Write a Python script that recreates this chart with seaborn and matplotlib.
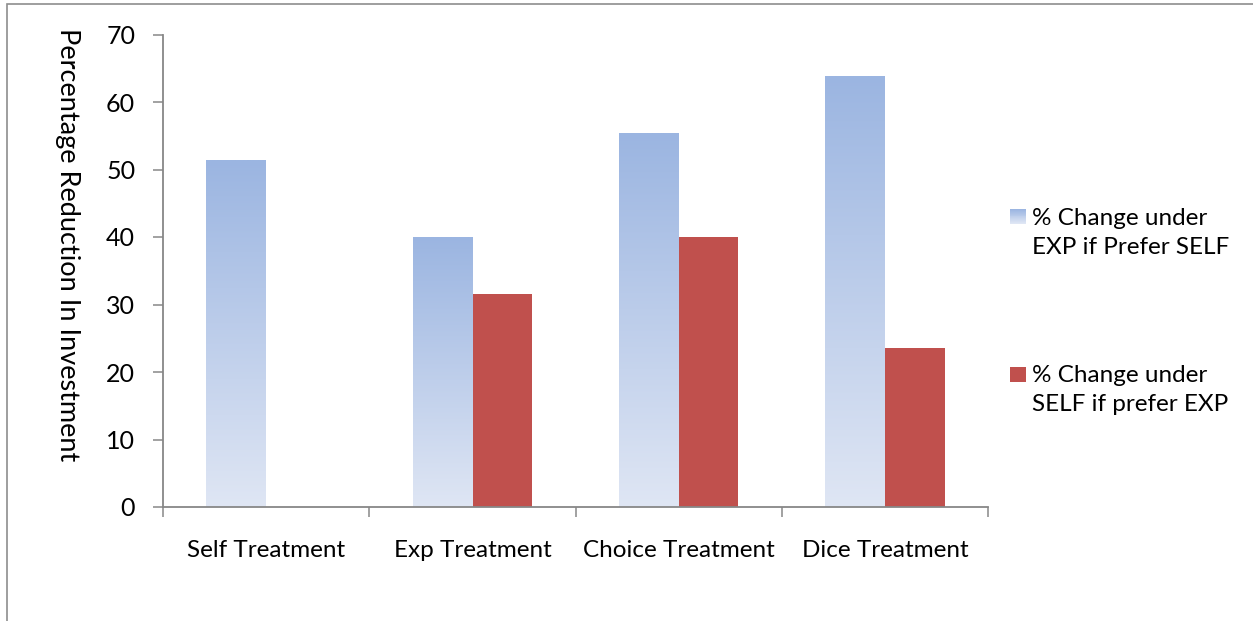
import numpy as np
import pandas as pd
import matplotlib
matplotlib.use("Agg")
import matplotlib.pyplot as plt
import seaborn as sns
from matplotlib.patches import Rectangle
from matplotlib.colors import LinearSegmentedColormap, to_rgb

# ---------------- data ----------------
categories = ["Self Treatment", "Exp Treatment", "Choice Treatment", "Dice Treatment"]
series = ["% Change under\nEXP if Prefer SELF", "% Change under\nSELF if prefer EXP"]
prefer_self_values = [51.4, 40.0, 55.3, 63.8]
prefer_exp_values = [np.nan, 31.6, 40.0, 23.5]
y_ticks = [0, 10, 20, 30, 40, 50, 60, 70]
y_label = "Percentage Reduction In Investment"

# ---------------- style ----------------
sns.set_theme(style="white")
plt.rcParams["font.family"] = ["Lato", "DejaVu Sans"]

BLUE_TOP = "#9BB5E1"
BLUE_BOTTOM = "#DFE6F4"
RED = "#C0504D"
GRAY = "#878787"
FS = 17.5

df = pd.DataFrame({
    "category": categories * 2,
    "series": [series[0]] * len(categories) + [series[1]] * len(categories),
    "value": prefer_self_values + prefer_exp_values,
})

W, H = 1253, 621
fig = plt.figure(figsize=(W / 100, H / 100), dpi=100)
ax = fig.add_axes([163 / W, 1 - 507 / H, (988 - 163) / W, (507 - 34.5) / H])

sns.barplot(data=df, x="category", y="value", hue="series", order=categories,
            hue_order=series, palette=[BLUE_TOP, RED], width=0.58, saturation=1,
            errorbar=None, linewidth=0, legend=False, ax=ax)

# gradient fill for the first series
cmap = LinearSegmentedColormap.from_list("grad", [BLUE_BOTTOM, BLUE_TOP])
grad = np.linspace(0, 1, 256).reshape(-1, 1)
for bar in ax.containers[0]:
    x0, y0 = bar.get_x(), bar.get_y()
    w, h = bar.get_width(), bar.get_height()
    if not np.isfinite(h) or h == 0:
        continue
    ax.imshow(grad, cmap=cmap, extent=[x0, x0 + w, y0, y0 + h], origin="lower",
              aspect="auto", interpolation="bilinear", zorder=bar.get_zorder())
    bar.set_facecolor("none")

ax.set_xlim(-0.5, len(categories) - 0.5)
ax.set_ylim(0, 70)
ax.set_yticks(y_ticks)
ax.set_xticks(range(len(categories)))
ax.set_xticklabels(categories, fontsize=FS, color="black")
ax.set_xticks(np.arange(-0.5, len(categories), 1), minor=True)
ax.set_xlabel("")
ax.set_ylabel("")

ax.tick_params(axis="x", which="major", bottom=True, length=0, pad=23.5)
ax.tick_params(axis="x", which="minor", bottom=True, length=7, width=1.1,
               color=GRAY, direction="out")
ax.tick_params(axis="y", left=True, length=7, width=1.1, color=GRAY,
               direction="out", pad=13, labelsize=18, labelcolor="black")

for s in ["top", "right"]:
    ax.spines[s].set_visible(False)
for s in ["left", "bottom"]:
    ax.spines[s].set_color(GRAY)
    ax.spines[s].set_linewidth(1.3)

# y label
fig.text(67 / W, 1 - 245 / H, y_label, rotation=270, ha="center", va="center",
         fontsize=19.5, color="black")

# legend (manual, Excel-like)
def fig_rect(x, y, w, h, color):
    fig.add_artist(Rectangle((x / W, 1 - (y + h) / H), w / W, h / H,
                             transform=fig.transFigure, facecolor=color,
                             edgecolor="none", clip_on=False))

# gradient key
n = 16
top = np.array(to_rgb(BLUE_TOP)); bot = np.array(to_rgb(BLUE_BOTTOM))
for i in range(n):
    t = i / (n - 1)
    fig_rect(1010, 209 + i * 15 / n, 16, 15 / n + 0.2, tuple(top + (bot - top) * t))
fig_rect(1010, 367, 16, 15, RED)

fig.text(1032 / W, 1 - 233 / H, series[0], ha="left", va="center",
         fontsize=FS, color="black", linespacing=1.5)
fig.text(1032 / W, 1 - 390 / H, series[1], ha="left", va="center",
         fontsize=FS, color="black", linespacing=1.5)

# chart-area border
fig.add_artist(Rectangle((7 / W, -0.5), 2.0, 1.5 - 4 / H, transform=fig.transFigure,
                         fill=False, edgecolor="#8E8E8E", linewidth=1.2, clip_on=False))

fig.savefig("out.png", dpi=100)
